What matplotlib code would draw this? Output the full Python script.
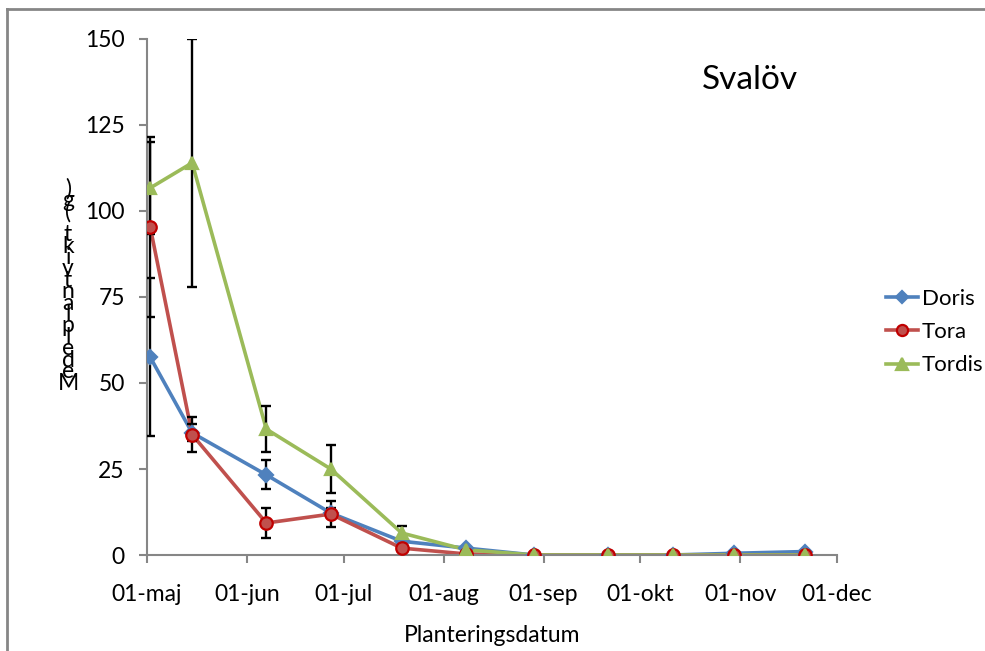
import matplotlib
matplotlib.use("Agg")
import matplotlib.pyplot as plt
from matplotlib.lines import Line2D
import datetime as dt

plt.rcParams['font.family'] = ['Lato', 'DejaVu Sans']

# planting dates (year is arbitrary)
dates = ["2010-05-02", "2010-05-15", "2010-06-07", "2010-06-27", "2010-07-19",
         "2010-08-08", "2010-08-29", "2010-09-21", "2010-10-11", "2010-10-30", "2010-11-21"]

doris = [57.5, 35.5, 23.3, 12.2, 4.0, 2.0, 0.0, 0.0, 0.0, 0.5, 1.0]
tora = [95.3, 35.0, 9.3, 11.9, 2.0, 0.3, 0.0, 0.0, 0.0, 0.0, 0.0]
tordis = [106.7, 114.0, 36.6, 25.0, 6.4, 1.5, 0.0, 0.0, 0.0, 0.0, 0.0]

doris_err = [23.0, 2.5, 4.2, 1.5, 0.8, 0.3, 0, 0, 0, 0, 0]
tora_err = [26.2, 5.1, 4.4, 3.8, 0.5, 0, 0, 0, 0, 0, 0]
tordis_err = [13.3, 36.0, 6.7, 7.0, 2.0, 0.5, 0, 0, 0, 0, 0]

tick_dates = ["2010-05-01", "2010-06-01", "2010-07-01", "2010-08-01",
              "2010-09-01", "2010-10-01", "2010-11-01", "2010-12-01"]
tick_labels = ["01-maj", "01-jun", "01-jul", "01-aug", "01-sep", "01-okt", "01-nov", "01-dec"]
yticks = [0, 25, 50, 75, 100, 125, 150]

ylabel = "Medelplantvikt (g)"

x = [dt.datetime.strptime(d, "%Y-%m-%d") for d in dates]
xt = [dt.datetime.strptime(d, "%Y-%m-%d") for d in tick_dates]

fig = plt.figure(figsize=(9.85, 6.51), dpi=100)
ax = fig.add_axes([147/985, 1-555/651, 690/985, 516/651])

series = [
    ("Doris", doris, doris_err, "#4F81BD", "D", "#4F81BD", "#4F81BD", 7),
    ("Tora", tora, tora_err, "#C0504D", "o", "#C0504D", "#C00000", 9),
    ("Tordis", tordis, tordis_err, "#9BBB59", "^", "#9BBB59", "#9BBB59", 9),
]

handles = []
for name, y, err, col, mk, fc, ec, ms in series:
    ax.plot(x, y, color=col, lw=2.6, zorder=2)
    ax.errorbar(x, y, yerr=err, fmt="none", ecolor="black", elinewidth=1.7,
                capsize=3.5, capthick=1.7, zorder=3)
    ax.plot(x, y, ls="none", marker=mk, markersize=ms, markerfacecolor=fc,
            markeredgecolor=ec, markeredgewidth=1.6, zorder=4)
    handles.append(Line2D([], [], color=col, lw=2.6, marker=mk, markersize=ms - 1,
                          markerfacecolor=fc, markeredgecolor=ec, markeredgewidth=1.6, label=name))

ax.set_xlim(xt[0], xt[-1])
ax.set_ylim(0, 150)
ax.set_xticks(xt)
ax.set_xticklabels(tick_labels)
ax.set_yticks(yticks)
ax.tick_params(axis="both", labelsize=16.5, color="#868686", length=6, width=1.5)
ax.tick_params(axis="x", pad=15)
ax.tick_params(axis="y", pad=10)
for s in ["top", "right"]:
    ax.spines[s].set_visible(False)
for s in ["left", "bottom"]:
    ax.spines[s].set_color("#868686")
    ax.spines[s].set_linewidth(1.5)

ax.set_xlabel("Planteringsdatum", fontsize=16.5, labelpad=14)

# stacked y label, read from bottom upwards
step = 11.4
for i, ch in enumerate(ylabel):
    fig.text(68/985, 1-(383 - i*step)/651, ch, ha="center", va="center", fontsize=16.5)

fig.text(750/985, 1-80/651, "Svalöv", ha="center", va="center", fontsize=24)

fig.legend(handles=handles, loc="center left", bbox_to_anchor=(886/985, 1-332/651),
           frameon=False, fontsize=16, handlelength=1.45, handletextpad=0.15,
           labelspacing=0.6, borderaxespad=0, borderpad=0)

# outer chart border
fig.add_artist(Line2D([7/985, 7/985], [0, 1-9/651], transform=fig.transFigure, color="#868686", lw=2))
fig.add_artist(Line2D([7/985, 1], [1-9/651, 1-9/651], transform=fig.transFigure, color="#868686", lw=2))

fig.savefig("out.png", dpi=100)
